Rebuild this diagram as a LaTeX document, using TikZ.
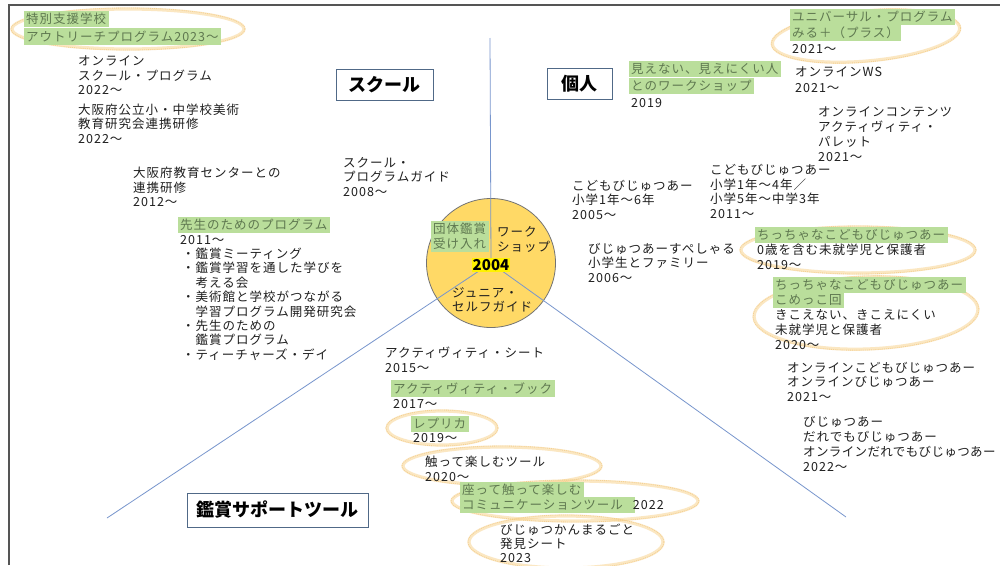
\documentclass[tikz,border=0pt]{standalone}
\usepackage{fontspec}
\setmainfont{Noto Sans CJK JP}
\newfontfamily\jp{Noto Sans CJK JP}[LetterSpace=8]
\definecolor{hlg}{RGB}{186,222,155}
\definecolor{hlt}{RGB}{95,120,80}
\definecolor{axiscol}{RGB}{120,150,205}
\definecolor{circfill}{RGB}{255,217,102}
\definecolor{boxline}{RGB}{80,105,135}
\definecolor{crayon}{RGB}{248,212,145}
\definecolor{crayond}{RGB}{240,195,120}
\definecolor{framecol}{RGB}{85,85,85}
\setlength\fboxsep{2.5pt}
\newcommand\hl[1]{\hspace*{-2.5pt}\smash{\colorbox{hlg}{\textcolor{hlt}{#1}}}\hspace*{-2.5pt}}
\newcommand\st{\rule[-3pt]{0pt}{10.5pt}}
\newcommand\txtfont[1]{\jp\fontsize{12.5pt}{#1}\selectfont\lineskiplimit=-100pt\relax}
\tikzset{
  txt/.style={anchor=north west, inner sep=0pt, align=left, text=black!88,
    font={\txtfont{#1}}},
  txt/.default=14.5pt,
  lbl/.style={draw=boxline, line width=0.9pt, fill=white, inner sep=0pt,
    font=\bfseries\fontsize{18pt}{20pt}\selectfont},
  axisline/.style={draw=axiscol, line width=0.8pt},
  cray/.style={draw=crayon, line width=3.2pt, opacity=0.55},
  crayd/.style={draw=crayond, line width=0.9pt, densely dotted, opacity=0.6},
}
\begin{document}
\begin{tikzpicture}[x=1pt, y=-1pt]
\useasboundingbox (0,0) rectangle (1000,565);
\fill[white] (0,0) rectangle (1000,565);
% frame
\draw[framecol, line width=1.5pt] (9,565) -- (9,5) -- (1000,5);

% crayon ellipses
\foreach \c/\rx/\ry/\a in {{(128,29)}/116/20/0, {(866,36)}/94/25/5, {(858,250)}/117/23/0,
    {(866,313)}/112/36/2, {(442,428)}/55/17/0, {(502,466)}/99/19/0,
    {(575,501)}/123/20/0, {(566,542)}/97/26/0}{
  \draw[cray, rotate around={\a:\c}] \c ellipse [x radius=\rx pt, y radius=\ry pt];
  \draw[crayd, rotate around={\a:\c}] \c ellipse [x radius=\rx pt+1pt, y radius=\ry pt+1pt];
}

% hub
\node (hub) [circle, draw=black!55, line width=0.8pt, fill=circfill, minimum size=129pt, inner sep=0pt] at (491,263) {};
\coordinate (tipN) at (490,38);
\coordinate (tipSW) at (107,518);
\coordinate (tipSE) at (846,517);
\draw[axisline] (hub.center) -- (tipN);
\draw[axisline] (hub.center) -- (tipSW);
\draw[axisline] (hub.center) -- (tipSE);

\node (dantai) [txt=15pt] at (433,226) {\st\hl{団体鑑賞}\\\hl{受け入れ}};
\node (ws) [txt=15pt] at (497,226) {\st ワーク\\ショップ};
\node (junior) [txt] at (452,287) {\st ジュニア・\\セルフガイド};
\node (yr) [fill=yellow, inner sep=1pt, font=\bfseries\fontsize{15pt}{16pt}\selectfont] at (491,265) {2004};

% category labels
\node (school) [lbl, minimum width=97pt, minimum height=31pt] at (384.5,84.5) {スクール};
\node (kojin) [lbl, minimum width=65pt, minimum height=31pt] at (579.5,83.5) {個人};
\node (tool) [lbl, minimum width=181pt, minimum height=34pt] at (277.5,510) {鑑賞サポートツール};

% school side
\node (outreach) [txt=17.5pt] at (26,16) {\st\hl{特別支援学校}\\\hl{アウトリーチプログラム2023〜}};
\node (online) [txt] at (78,56) {\st オンライン\\スクール・プログラム\\2022〜};
\node (osakaken) [txt=14.2pt] at (78,104) {\st 大阪府公立小・中学校美術\\教育研究会連携研修\\2022〜};
\node (center) [txt] at (133,167) {\st 大阪府教育センターとの\\連携研修\\2012〜};
\node (teacher) [txt=14.4pt] at (180,222) {\st\hl{先生のためのプログラム}\\2011〜\\\hspace*{2pt}・鑑賞ミーティング\\\hspace*{2pt}・鑑賞学習を通した学びを\\\hspace*{15.5pt}考える会\\\hspace*{2pt}・美術館と学校がつながる\\\hspace*{15.5pt}学習プログラム開発研究会\\\hspace*{2pt}・先生のための\\\hspace*{15.5pt}鑑賞プログラム\\\hspace*{2pt}・ティーチャーズ・デイ};
\node (guide) [txt] at (343,157) {\st スクール・\\プログラムガイド\\2008〜};

% individual side
\node (mienai) [txt=17pt] at (631,66) {\st\hl{見えない、見えにくい人}\\\hl{とのワークショップ}\\2019};
\node (univ) [txt=16pt] at (792,14) {\st\hl{ユニバーサル・プログラム}\\\hl{みる＋（プラス）}\\2021〜};
\node (onlinews) [txt=16pt] at (795,67) {\st オンラインWS\\2021〜};
\node (contents) [txt=15pt] at (818,107) {\st オンラインコンテンツ\\アクティヴィティ・\\パレット\\2021〜};
\node (kodomo2) [txt=14.7pt] at (710,164) {\st こどもびじゅつあー\\小学1年〜4年／\\小学5年〜中学3年\\2011〜};
\node (kodomo1) [txt] at (572,180) {\st こどもびじゅつあー\\小学1年〜6年\\2005〜};
\node (special) [txt] at (588,243) {\st びじゅつあーすぺしゃる\\小学生とファミリー\\2006〜};
\node (chiccha) [txt=15pt] at (757,232) {\st\hl{ちっちゃなこどもびじゅつあー}\\0歳を含む未就学児と保護者\\2019〜};
\node (komekko) [txt=15pt] at (775,282) {\st\hl{ちっちゃなこどもびじゅつあー}\\\hl{こめっこ回}\\きこえない、きこえにくい\\未就学児と保護者\\2020〜};
\node (onlinekodomo) [txt] at (787,362) {\st オンラインこどもびじゅつあー\\オンラインびじゅつあー\\2021〜};
\node (dareto) [txt=15pt] at (803,416) {\st びじゅつあー\\だれでもびじゅつあー\\{\addfontfeatures{LetterSpace=3}オンラインだれでもびじゅつあー}\\2022〜};

% tool side
\node (sheet) [txt=15pt] at (385,347) {\st アクティヴィティ・シート\\2015〜};
\node (book) [txt=15pt] at (393,386) {\st\hl{アクティヴィティ・ブック}\\2017〜};
\node (replica) [txt=14pt] at (413,421) {\st\hl{レプリカ}\\2019〜};
\node (touch) [txt=15pt] at (425,456) {\st 触って楽しむツール\\2020〜};
\node (comm) [txt=15pt] at (462,487) {\st\hl{座って触って楽しむ}\\\hl{コミュニケーションツール\hspace*{10pt}}2022};
\node (marugoto) [txt=14pt] at (500,524) {\st びじゅつかんまるごと\\発見シート\\2023};
\end{tikzpicture}
\end{document}
